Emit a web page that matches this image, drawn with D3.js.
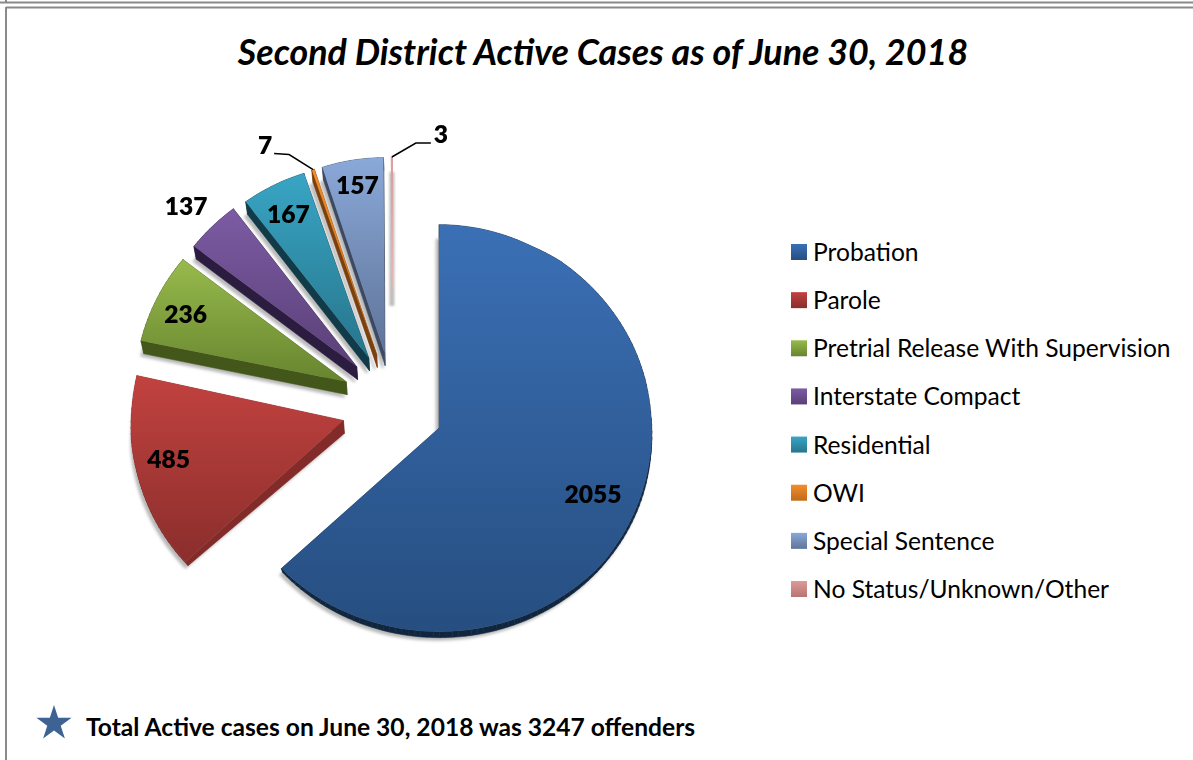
<!DOCTYPE html>
<html><head><meta charset="utf-8">
<script src="https://cdn.jsdelivr.net/npm/d3@7/dist/d3.min.js"></script>
<style>html,body{margin:0;padding:0;background:#fff;overflow:hidden}text{font-family:Lato,"Open Sans",sans-serif;fill:#000}</style>
</head><body><svg id="c" width="1193" height="760"></svg>
<script>
const categories=["Probation","Parole","Pretrial Release With Supervision","Interstate Compact","Residential","OWI","Special Sentence","No Status/Unknown/Other"];
const values=[2055,485,236,137,167,7,157,3];
const topColors=["#3b70b6","#c2423f","#97ba4c","#7c5ba3","#38a5c4","#f28e2c","#8aa8d8","#dc9a98"];
const bottomColors=["#264e80","#8a2e2c","#67852f","#5a4078","#27758c","#c06a1a","#5f7499","#b87472"];
const sideColors=["#10263f","#822b29","#44571b","#2c1d40","#113b49","#7a4010","#3c4a64","#e8b4b4"];
const title="Second District Active Cases as of June 30, 2018";
const footer="Total Active cases on June 30, 2018 was 3247 offenders";

const svg=d3.select("#c");
const cx=392.6,cy=407,rx=213,ry=203,explode=51;
const defs=svg.append("defs");
const blur=defs.append("filter").attr("id","sh").attr("x","-30%").attr("y","-30%").attr("width","160%").attr("height","160%");
blur.append("feGaussianBlur").attr("stdDeviation",1.6);
defs.append("filter").attr("id","sh2").attr("x","-100%").attr("width","300%").attr("y","-10%").attr("height","120%")
  .append("feGaussianBlur").attr("stdDeviation",.8);

// frame rules
[[0,1193,2.5,2.5],[6,1193,7.5,7.5],[6,6,0,3],[6,6,7,760]].forEach(l=>svg.append("line")
  .attr("x1",l[0]).attr("x2",l[1]).attr("y1",l[2]).attr("y2",l[3]).attr("stroke","#8a8a8a").attr("stroke-width",2));

svg.append("text").attr("x",603).attr("y",64.5).attr("text-anchor","middle")
  .attr("font-size",35.8).attr("font-weight",700).attr("font-style","italic").text(title);

const arcs=d3.pie().sort(null)(values);
// perspective correction of the tilted 3-D pie
const warpY=d3.scaleLinear().domain([154,168,199,209,246,262,345,361,371,386,420,557,630]).range([158,172,201,209,246,260,341,357,367,382,420,562,631]);
const shrinkX=d3.scaleLinear().domain([200,440]).range([.96,1]).clamp(true);
const depth=d3.scaleLinear().domain([420,560,630]).range([13,4,6]).clamp(true);
const skew=d3.scaleLinear().domain([140,439,652]).range([3,0,-1]).clamp(true);
const line=d3.line();
const low=p=>[p[0]+skew(p[0]),p[1]+depth(p[1])];

const slices=arcs.map((a,i)=>{
  const mid=(a.startAngle+a.endAngle)/2;
  const ax=cx+explode*Math.sin(mid), ay=cy-explode*Math.cos(mid);
  const n=Math.max(2,Math.ceil((a.endAngle-a.startAngle)/0.03));
  const rim=d3.range(n+1).map(k=>{const t=a.startAngle+(a.endAngle-a.startAngle)*k/n;
    const y=ay-ry*Math.cos(t);
    return [ax+rx*Math.sin(t)*shrinkX(y),warpY(y)];});
  return {i,mid,ax,ay:warpY(ay),rim,pts:[[ax,warpY(ay)],...rim]};
});

slices.forEach(s=>{
  const g=defs.append("linearGradient").attr("id","g"+s.i).attr("x1",0).attr("y1",0).attr("x2",0).attr("y2",1);
  g.append("stop").attr("offset",0).attr("stop-color",topColors[s.i]);
  if(s.i===7){
    g.append("stop").attr("offset",.6).attr("stop-color","#e8b4b4");
    g.append("stop").attr("offset",.7).attr("stop-color","#e8b4b4").attr("stop-opacity",0);
  } else g.append("stop").attr("offset",1).attr("stop-color",bottomColors[s.i]);
});

// soft shadows
const shadowG=svg.append("g").attr("filter","url(#sh)");
shadowG.selectAll("path").data(slices.filter(s=>s.i<7)).join("path")
  .attr("d",s=>line(s.pts.map(low))+"Z").attr("transform","translate(-2.5,2)")
  .attr("fill","#9a9a9a").attr("stroke","#9a9a9a").attr("stroke-width",2).attr("opacity",.7);
// the hairline slice only leaves a short wide shadow behind it
const tip=slices[7].rim[1];
svg.append("rect").attr("x",tip[0]-2.5).attr("y",tip[1]+15).attr("width",5).attr("height",.66*ry)
  .attr("fill","#bdbdbd").attr("filter","url(#sh2)");

// side walls
slices.filter(s=>s.i<7).forEach(s=>{
  const wall=svg.append("g");
  s.pts.forEach((p,k)=>{
    const q=s.pts[(k+1)%s.pts.length];
    wall.append("path").attr("d",line([p,q,low(q),low(p)])+"Z")
      .attr("fill",sideColors[s.i]).attr("stroke",sideColors[s.i]).attr("stroke-width",.5);
  });
});
// top faces
svg.append("g").selectAll("path").data(slices).join("path")
  .attr("d",s=>line(s.pts)+"Z").attr("fill",s=>`url(#g${s.i})`)
  .attr("stroke",s=>s.i===7?`url(#g${s.i})`:"none").attr("stroke-width",1);

// value labels
const labelFx=[.79,.85,.83,1.14,.81,null,.81,null];
const labelFy=[.81,.73,.79,1.107,.80,null,.833,null];
slices.forEach(s=>{
  if(labelFx[s.i]===null) return;
  svg.append("text").attr("x",s.ax+rx*labelFx[s.i]*Math.sin(s.mid)).attr("y",s.ay-ry*labelFy[s.i]*Math.cos(s.mid)+8.5)
    .attr("text-anchor","middle").attr("font-size",24.6).attr("font-weight",800).text(values[s.i]);
});
// leader lines for the two thin slices
const rimMid=s=>s.rim[Math.floor(s.rim.length/2)];
[[5,-24,-15,-39,-16,-48,-24],[7,24,-14,39,-14,49,-23]].forEach(d=>{
  const s=slices[d[0]],p=rimMid(s);
  svg.append("path").attr("d",line([p,[p[0]+d[1],p[1]+d[2]],[p[0]+d[3],p[1]+d[4]]]))
    .attr("fill","none").attr("stroke","#000").attr("stroke-width",1.5);
  svg.append("text").attr("x",p[0]+d[5]).attr("y",p[1]+d[6]+8.5)
    .attr("text-anchor","middle").attr("font-size",24.6).attr("font-weight",800).text(values[d[0]]);
});

// legend
const row=d3.scalePoint().domain(categories).range([252,589]);
const lg=svg.append("g").selectAll("g").data(categories).join("g").attr("transform",d=>`translate(791,${row(d)})`);
categories.forEach((c,i)=>{
  const g=defs.append("linearGradient").attr("id","l"+i).attr("x1",0).attr("y1",0).attr("x2",0).attr("y2",1);
  g.append("stop").attr("offset",0).attr("stop-color",topColors[i]);
  g.append("stop").attr("offset",1).attr("stop-color",bottomColors[i]);
});
lg.append("rect").attr("y",-8).attr("width",16).attr("height",16).attr("fill",(d,i)=>`url(#l${i})`);
lg.append("text").attr("x",22).attr("y",9).attr("font-size",24.6).text(d=>d);

// footer
svg.append("path").attr("d",d3.symbol(d3.symbolStar,384)()).attr("transform","translate(54,723.5)").attr("fill","#3c6394");
svg.append("text").attr("x",86).attr("y",736).attr("font-size",24.6).attr("font-weight",700).text(footer);
</script></body></html>
